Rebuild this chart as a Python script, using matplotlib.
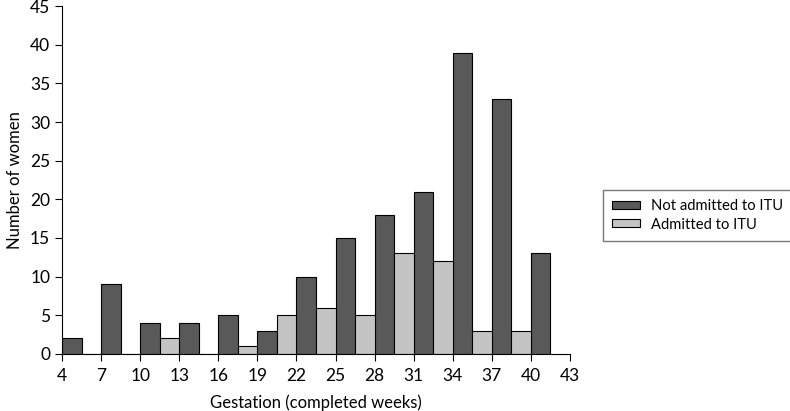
import matplotlib
matplotlib.use("Agg")
import matplotlib.pyplot as plt

plt.rcParams['font.family'] = ['Lato', 'DejaVu Sans']

# gestation tick (completed weeks) and counts per group
weeks = [4, 7, 10, 13, 16, 19, 22, 25, 28, 31, 34, 37, 40]
not_admitted = [2, 9, 4, 4, 5, 3, 10, 15, 18, 21, 39, 33, 13]
admitted = [0, 0, 0, 2, 0, 1, 5, 6, 5, 13, 12, 3, 3]
xticks = [4, 7, 10, 13, 16, 19, 22, 25, 28, 31, 34, 37, 40, 43]
yticks = [0, 5, 10, 15, 20, 25, 30, 35, 40, 45]

fig = plt.figure(figsize=(7.9, 4.11), dpi=100)
ax = fig.add_axes([0.0785, 0.139, 0.643, 0.846])

w = 1.5
ax.bar(weeks, not_admitted, width=w, align='edge', color='#595959',
       edgecolor='black', linewidth=0.8, label='Not admitted to ITU')
ax.bar(weeks, admitted, width=-w, align='edge', color='#c4c4c4',
       edgecolor='black', linewidth=0.8, label='Admitted to ITU')

ax.set_xlim(4, 43)
ax.set_ylim(0, 45)
ax.set_xticks(xticks)
ax.set_yticks(yticks)
ax.spines['top'].set_visible(False)
ax.spines['right'].set_visible(False)
ax.tick_params(axis='both', labelsize=12.5, length=5, width=0.8)
ax.tick_params(axis='x', pad=5)
ax.set_xlabel('Gestation (completed weeks)', fontsize=12, labelpad=8)
ax.set_ylabel('Number of women', fontsize=12, labelpad=5)

fig.legend(loc='center left', bbox_to_anchor=(0.763, 0.476), fontsize=10.6,
           frameon=True, fancybox=False, edgecolor='#555555',
           handlelength=1.85, handleheight=0.45, handletextpad=0.75,
           borderpad=0.65, labelspacing=0.3, borderaxespad=0)

fig.savefig('out.png', dpi=100)
